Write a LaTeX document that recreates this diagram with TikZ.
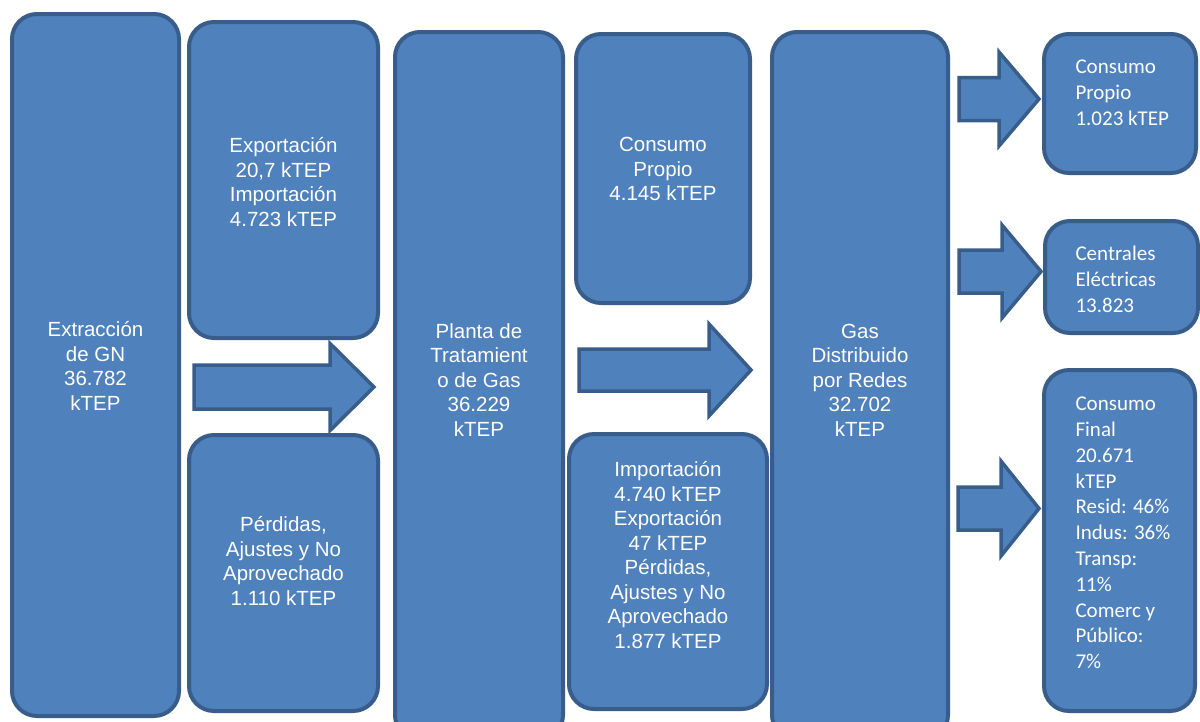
\documentclass[tikz,border=0pt]{standalone}
\usepackage{fontspec}
\setmainfont{Liberation Sans}
\newfontfamily\calib{Carlito}
\definecolor{boxfill}{HTML}{4F81BD}
\definecolor{boxline}{HTML}{385D8A}
\tikzset{
	box/.style={draw=boxline, fill=boxfill, line width=4pt, rounded corners=25pt, inner sep=0pt},
	txt/.style={text=white, align=center, font=\fontsize{20.5}{24.5}\selectfont},
	rtxt/.style={text=white, align=left, anchor=west, font=\calib\fontsize{21}{25.8}\selectfont},
	flecha/.style={draw=boxline, fill=boxfill, line width=3.5pt, line join=miter}
}
\begin{document}
\begin{tikzpicture}[x=1pt, y=-1pt]
		\useasboundingbox (0,0) rectangle (1200,721);
		%boxes
		\node[box, minimum width=167, minimum height=702] (extr) at (95.5,365){};
		\node[box, minimum width=189, minimum height=316] (expo) at (283.5,180){};
		\node[box, minimum width=189, minimum height=276] (perd) at (283.5,573){};
		\node[box, minimum width=168, minimum height=708] (planta) at (479,386){};
		\node[box, minimum width=174, minimum height=269] (cprop) at (663,168.5){};
		\node[box, minimum width=198, minimum height=275] (impo) at (668,571.5){};
		\node[box, minimum width=176, minimum height=708] (gas) at (860,386){};
		\node[box, minimum width=152, minimum height=139] (cpdist) at (1120,103.5){};
		\node[box, minimum width=153, minimum height=112] (centr) at (1121.5,277){};
		\node[box, minimum width=151, minimum height=341] (cfin) at (1119.5,540.5){};
		
		%block arrows
		\foreach \xs/\xh/\xt/\yc/\ys/\yh in {194/330/374/387/22/43.5, 579/709/751/370/21/46,
			959/999/1039/99/21.5/47, 959/1002/1041/271.5/21.5/46.5, 958/1001/1039/508.5/21.5/47.5}{
			\draw[flecha] (\xs, \yc-\ys) -- (\xh, \yc-\ys) -- (\xh, \yc-\yh) -- (\xt, \yc)
				-- (\xh, \yc+\yh) -- (\xh, \yc+\ys) -- (\xs, \yc+\ys) -- cycle;
		}
		
		%texts
		\node[txt] (textr) at (95.5,366){Extracción\\de GN\\36.782\\kTEP};
		\node[txt] (texpo) at (283.5,182){Exportación\\20,7 kTEP\\Importación\\4.723 kTEP};
		\node[txt] (tperd) at (283.5,561){Pérdidas,\\Ajustes y No\\Aprovechado\\1.110 kTEP};
		\node[txt] (tplanta) at (479,380){Planta de\\Tratamient\\o de Gas\\36.229\\kTEP};
		\node[txt] (tcprop) at (663,169){Consumo\\Propio\\4.145 kTEP};
		\node[txt] (timpo) at (668,555){Importación\\4.740 kTEP\\Exportación\\47 kTEP\\Pérdidas,\\Ajustes y No\\Aprovechado\\1.877 kTEP};
		\node[txt] (tgas) at (860,380){Gas\\Distribuido\\por Redes\\32.702\\kTEP};
		\node[rtxt] (tcpdist) at (1072,92.5){Consumo\\Propio\\1.023 kTEP};
		\node[rtxt] (tcentr) at (1072,279){Centrales\\Eléctricas\\13.823};
		\node[rtxt] (tcfin) at (1072,533){Consumo\\Final\\20.671\\kTEP\\Resid: 46\%\\Indus: 36\%\\Transp:\\11\%\\Comerc y\\Público:\\7\%};
		\end{tikzpicture}
\end{document}
